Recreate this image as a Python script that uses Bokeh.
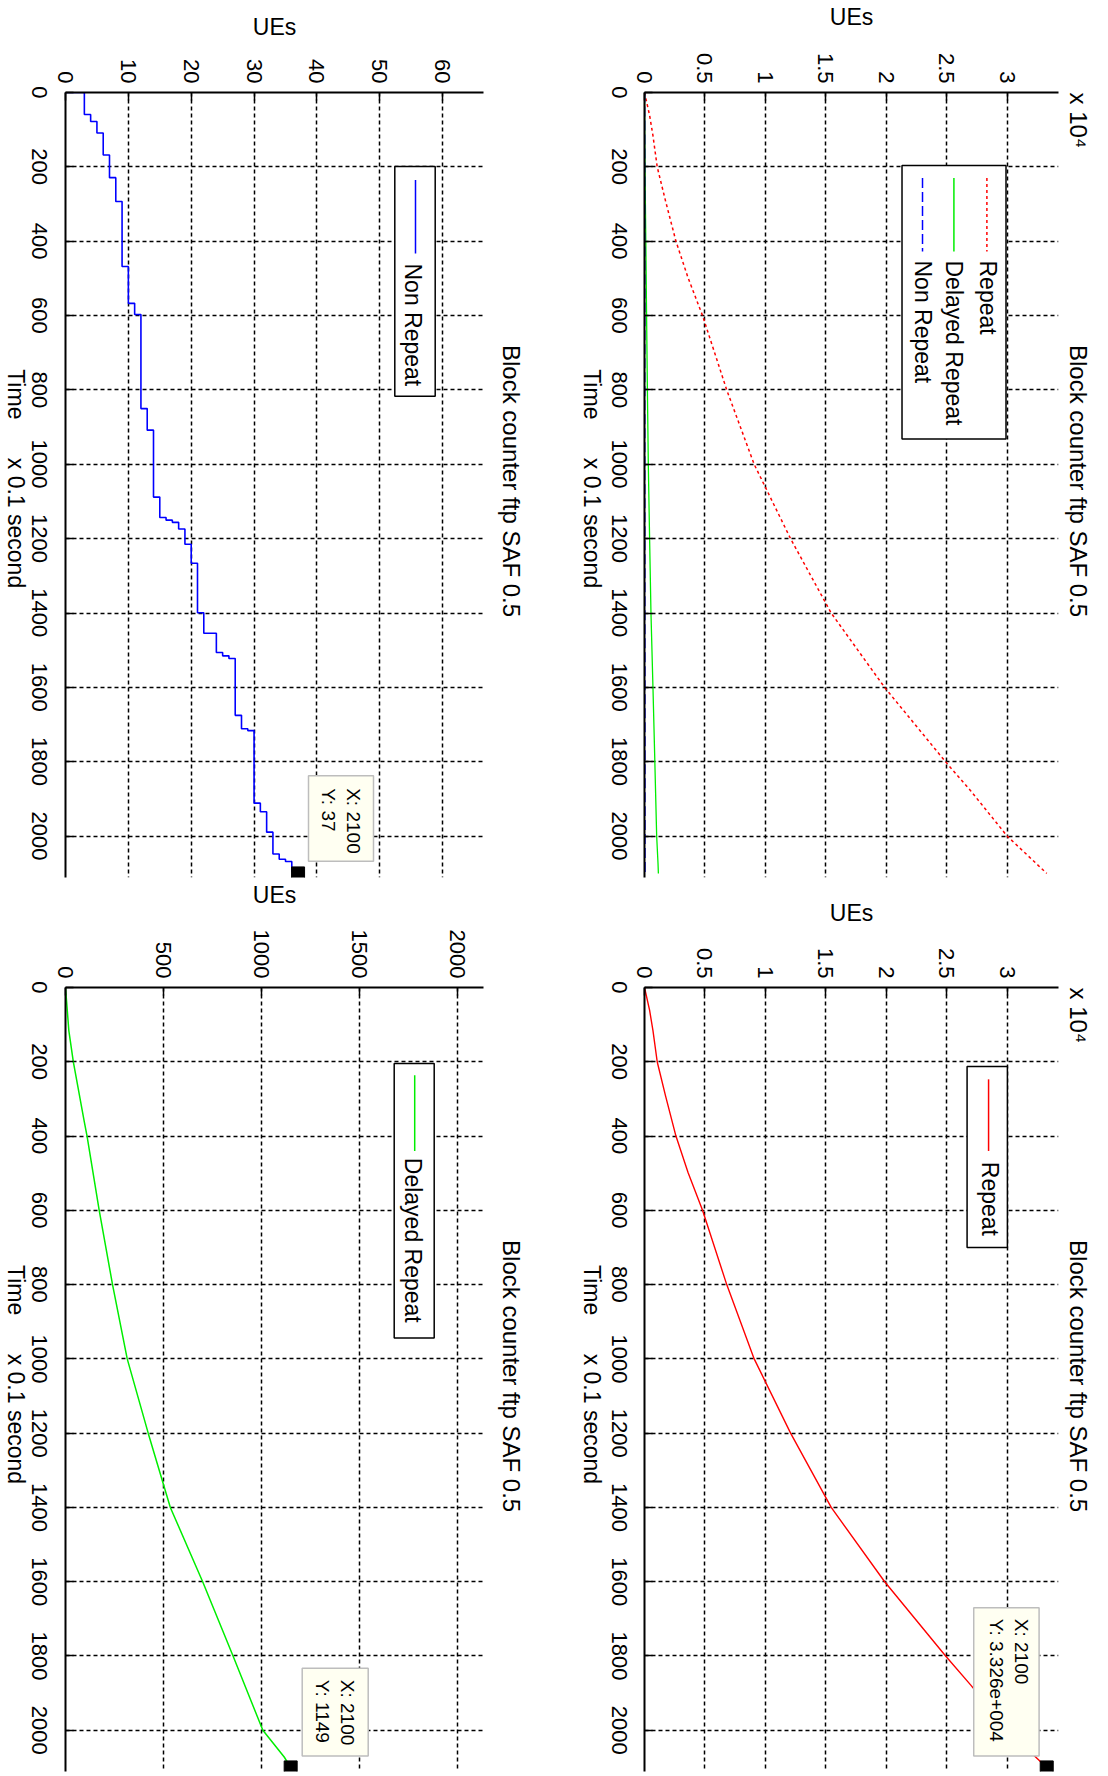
import math
from bokeh.plotting import figure
from bokeh.models import Range1d, FixedTicker, Label, BoxAnnotation, Arrow, LinearAxis
from bokeh.layouts import column, row
from bokeh.embed import file_html
from bokeh.resources import INLINE

# ---------------- data ----------------
# time in units of 0.1 second, values are UEs
repeat_t = [0, 61, 116, 200, 293, 400, 498, 600, 800, 1000, 1200, 1400, 1600, 1800, 1879, 2000, 2100]
repeat_v = [0, 420, 700, 1050, 1750, 2600, 3600, 4800, 6800, 9070, 12080, 15440, 19860, 24900, 27000, 30000, 33260]

delayed_t = [0, 116, 200, 362, 400, 600, 800, 1000, 1200, 1400, 1600, 1800, 2000, 2072, 2100]
delayed_v = [0, 17, 40, 96, 110, 172, 240, 315, 422, 535, 700, 855, 1007, 1116, 1149]

nonrepeat_t = [0, 0, 59, 78, 109, 168, 229, 293, 468, 567, 597, 850, 908, 1088, 1143, 1150, 1156, 1174,
               1215, 1266, 1399, 1454, 1506, 1515, 1522, 1675, 1711, 1716, 1911, 1934, 1989, 2048, 2062,
               2068, 2095, 2100]
nonrepeat_v = [0, 3, 4, 5, 6, 7, 8, 9, 10, 11, 12, 13, 14, 15, 16, 17, 18, 19,
               20, 21, 22, 24, 25, 26, 27, 28, 29, 30, 31, 32, 33, 34, 35,
               36, 37, 37]

time_ticks = [0, 200, 400, 600, 800, 1000, 1200, 1400, 1600, 1800, 2000]
ue_ticks_all = [0, 5000, 10000, 15000, 20000, 25000, 30000]
ue_labels_all = ["0", "0.5", "1", "1.5", "2", "2.5", "3"]
ue_ticks_nonrep = [0, 10, 20, 30, 40, 50, 60]
ue_ticks_delayed = [0, 500, 1000, 1500, 2000]

title_text = "Block counter ftp SAF 0.5"
time_label = "Time \u00a0\u00a0\u00a0\u00a0\u00a0x 0.1 second"
ue_label = "UEs"
scale_label = "x 10\u2074"

FONT = "Liberation Sans"
FW = 418
RED, GREEN, BLUE = "#FF0000", "#00EE00", "#0000FF"
ROT = -math.pi / 2
DIGIT_EM = 0.556   # advance of a digit in Liberation Sans, in em


def text_axis(p, side, ticks, texts, size, standoff, line_height=None):
    """Axis without line/ticks that only carries rotated texts."""
    ax = LinearAxis(ticker=FixedTicker(ticks=ticks),
                    major_label_overrides={k: v for k, v in zip(ticks, texts)})
    ax.axis_line_color = None
    ax.major_tick_line_color = None
    ax.minor_tick_line_color = None
    ax.major_label_orientation = ROT
    ax.major_label_standoff = standoff
    ax.major_label_text_font = FONT
    ax.major_label_text_font_size = f"{size}px"
    ax.major_label_text_color = "black"
    if line_height is not None:
        ax.major_label_text_line_height = line_height
    p.add_layout(ax, side)


def panel(x_end, t_end, fh, width, height, mbl, mbr, mbt, mbb, xticks, ue_standoff,
          tick_standoff, time_standoff, right_standoff, has_scale, xlabels=None, margin=None):
    kw = {}
    if margin is not None:
        kw["margin"] = margin
    p = figure(width=width, height=height, x_range=Range1d(0, x_end), y_range=Range1d(t_end, 0),
               x_axis_location="above", y_axis_location="left",
               toolbar_location=None, output_backend="svg",
               min_border_left=mbl, min_border_right=mbr, min_border_top=mbt, min_border_bottom=mbb,
               **kw)
    p.outline_line_color = None
    p.background_fill_color = "white"
    p.border_fill_color = "white"
    sy = t_end / fh
    xa = p.xaxis[0]
    ya = p.yaxis[0]
    xt = FixedTicker(ticks=xticks)
    yt = FixedTicker(ticks=time_ticks)
    xa.ticker = xt
    ya.ticker = yt
    if xlabels:
        xa.major_label_overrides = {k: v for k, v in zip(xticks, xlabels)}
    for ax in (xa, ya):
        ax.major_tick_in = 8
        ax.major_tick_out = 0
        ax.major_tick_line_width = 1.5
        ax.major_tick_line_color = "black"
        ax.minor_tick_line_color = None
        ax.axis_line_width = 2
        ax.axis_line_color = "black"
    xa.major_label_orientation = ROT
    xa.major_label_standoff = 9
    xa.major_label_text_font = FONT
    xa.major_label_text_font_size = "22px"
    xa.major_label_text_color = "black"
    # main time axis: ticks and line only; its labels are drawn centred by a text axis
    ya.major_label_text_color = None
    ya.major_label_text_font_size = "0px"
    ya.major_label_standoff = 0
    xa.axis_label = ue_label
    xa.axis_label_text_font = FONT
    xa.axis_label_text_font_style = "normal"
    xa.axis_label_text_color = "black"
    xa.axis_label_text_font_size = "23px"
    xa.axis_label_standoff = ue_standoff
    p.xgrid[0].ticker = xt
    p.ygrid[0].ticker = yt
    for g in (p.xgrid[0], p.ygrid[0]):
        g.grid_line_color = "#000000"
        g.grid_line_dash = "4 3"
        g.grid_line_width = 1.5
    # time tick labels (rotated, end-anchored -> shift by half their length to centre them)
    lab_ticks = [round(T + len(str(T)) * DIGIT_EM * 22 / 2 * sy) for T in time_ticks]
    text_axis(p, "left", lab_ticks, [str(T) for T in time_ticks], 22, tick_standoff)
    # time axis title (outer left); text ends at its tick
    text_axis(p, "left", [round(499 * sy)], [time_label], 23, time_standoff)
    # plot title (and scale factor) on the right; texts start at their ticks
    if has_scale:
        text_axis(p, "right", [0, round(254 * sy)], [scale_label, title_text], 24, right_standoff, 1.0)
    else:
        text_axis(p, "right", [round(254 * sy)], [title_text], 24, right_standoff, 1.0)
    cfg = dict(sx=x_end / FW, sy=sy)
    return p, cfg


def txt(p, rx, ry, text, size, angle=ROT, align="left", baseline="middle"):
    p.add_layout(Label(x=0, y=0, x_offset=rx, y_offset=-ry, text=text, angle=angle,
                       text_align=align, text_baseline=baseline, text_font=FONT,
                       text_font_size=f"{size}px", text_color="black"))


def box(p, cfg, rx0, rx1, ry0, ry1, fill, line, lw):
    p.add_layout(BoxAnnotation(left=rx0 * cfg["sx"], right=rx1 * cfg["sx"],
                               top=ry0 * cfg["sy"], bottom=ry1 * cfg["sy"],
                               fill_color=fill, fill_alpha=1.0, line_color=line,
                               line_alpha=1.0, line_width=lw))


def seg(p, cfg, rx, ry0, ry1, color, dash, lw):
    p.add_layout(Arrow(start=None, end=None, x_start=rx * cfg["sx"], x_end=rx * cfg["sx"],
                       y_start=ry0 * cfg["sy"], y_end=ry1 * cfg["sy"],
                       line_color=color, line_dash=dash, line_width=lw))


def datatip(p, cfg, xv, tv, brx0, brx1, bry0, bry1, lines):
    p.scatter(x=[xv], y=[tv], marker="square", size=13, fill_color="black", line_color="black")
    box(p, cfg, brx0, brx1, bry0, bry1, "#FFFFF2", "#BDBDBD", 1.5)
    for (rx, s) in lines:
        txt(p, rx, bry0 + 8, s, 19)


LM = 86   # left border of the left column (partly shifted off-page by a negative margin)

# ---------------- top-left: Non Repeat ----------------
tl, ctl = panel(66.5, 2111, 790, LM + 418 + 71, 878, LM, 71, 87, 1, ue_ticks_nonrep, 16,
                20, 0, 22, False, margin=(0, 0, 0, 65 - LM))
tl.step(x=nonrepeat_v, y=nonrepeat_t, mode="before", line_color=BLUE, line_width=1.6)
box(tl, ctl, 329.3, 369.7, 74.4, 305.7, "white", "black", 1.5)
seg(tl, ctl, 350, 88, 162, BLUE, "solid", 1.5)
txt(tl, 347.5, 171, "Non Repeat", 23)
datatip(tl, ctl, nonrepeat_v[-1], nonrepeat_t[-1], 243, 308, 687.7, 773.7,
        [(288, "X: %d" % nonrepeat_t[-1]), (263, "Y: %d" % nonrepeat_v[-1])])

# ---------------- top-right: all three ----------------
tr, ctr = panel(34234, 2111, 790, 554, 878, 90, 46, 87, 1, ue_ticks_all, 20,
                19, 4, 14, True, ue_labels_all)
tr.line(x=repeat_v, y=repeat_t, line_color=RED, line_width=1.5, line_dash="3 3")
tr.line(x=delayed_v, y=delayed_t, line_color=GREEN, line_width=1.3)
tr.step(x=nonrepeat_v, y=nonrepeat_t, mode="before", line_color=BLUE, line_width=1.6, line_dash="10 4")
box(tr, ctr, 260, 365, 73.4, 348.7, "white", "black", 1.5)
seg(tr, ctr, 345.7, 86, 160, RED, "3 3", 1.5)
seg(tr, ctr, 312.4, 86, 160, GREEN, "solid", 1.5)
seg(tr, ctr, 280.7, 86, 160, BLUE, "10 4", 1.5)
txt(tr, 343.5, 168, "Repeat", 23)
txt(tr, 309.5, 168, "Delayed Repeat", 23)
txt(tr, 278, 168, "Non Repeat", 23)

# ---------------- bottom-left: Delayed Repeat ----------------
bl, cbl = panel(2133, 2111, 788, LM + 418 + 71, 897, LM, 71, 105, 4, ue_ticks_delayed, 19,
                20, 0, 22, False, margin=(0, 0, 0, 65 - LM))
bl.line(x=delayed_v, y=delayed_t, line_color=GREEN, line_width=1.5)
box(bl, cbl, 328.7, 368.7, 76.3, 352.3, "white", "black", 1.5)
seg(bl, cbl, 349.2, 88.3, 164.3, GREEN, "solid", 1.5)
txt(bl, 347, 170.3, "Delayed Repeat", 23)
datatip(bl, cbl, delayed_v[-1], delayed_t[-1], 236.7, 302.7, 684.3, 772.3,
        [(282.4, "X: %d" % delayed_t[-1]), (257.4, "Y: %d" % delayed_v[-1])])

# ---------------- bottom-right: Repeat ----------------
br, cbr = panel(34234, 2111, 788, 554, 897, 90, 46, 105, 4, ue_ticks_all, 19,
                19, 4, 14, True, ue_labels_all)
br.line(x=repeat_v, y=repeat_t, line_color=RED, line_width=1.4)
box(br, cbr, 325.7, 366.4, 79.3, 261.3, "white", "black", 1.5)
seg(br, cbr, 347.4, 92.3, 164.3, RED, "solid", 1.5)
txt(br, 345, 174.3, "Repeat", 23)
datatip(br, cbr, repeat_v[-1], repeat_t[-1], 332.4, 398.4, 623.3, 772.3,
        [(377.4, "X: %d" % repeat_t[-1]), (352.4, "Y: 3.326e+004")])

layout = column(row(tl, tr), row(bl, br))
open("out.html", "w").write(file_html(layout, INLINE))
